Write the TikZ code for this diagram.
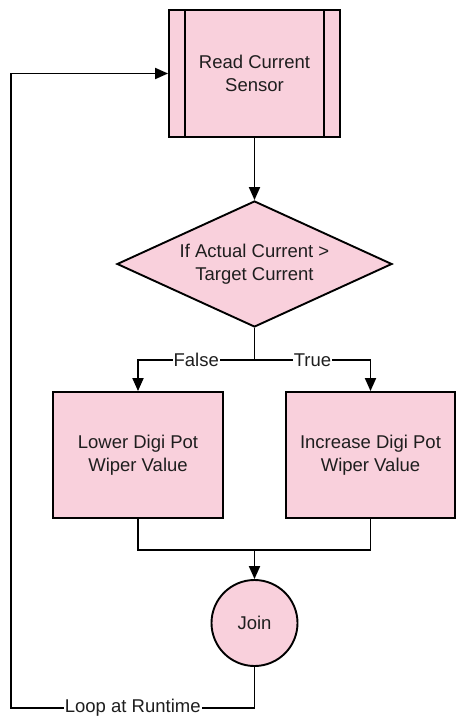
\documentclass[tikz,border=0pt]{standalone}
\usepackage{fontspec}
\setmainfont{Liberation Sans}
\usetikzlibrary{shapes.geometric,arrows.meta}
\definecolor{pinkfill}{RGB}{249,208,220}
\definecolor{txt}{RGB}{30,30,30}
\tikzset{
  every node/.style={font=\fontsize{18.5}{23}\selectfont, text=txt},
  box/.style={draw=black, line width=1.9pt, fill=pinkfill, align=center, inner sep=0pt},
  dia/.style={box, diamond, minimum width=275pt, minimum height=126pt, aspect=2.18},
  joinc/.style={box, circle, minimum size=86pt},
  conn/.style={draw=black, line width=1.9pt},
  arr/.style={conn, -{Triangle[length=13pt,width=11pt]}},
  lbl/.style={fill=white, inner sep=1pt}
}
\begin{document}
\begin{tikzpicture}[x=1pt,y=-1pt]
\useasboundingbox (0,0) rectangle (455,717);
\node[box, minimum width=171pt, minimum height=127pt] (read) at (254.5,73.5) {Read Current\\Sensor};
\draw[conn] ([xshift=17pt]read.north west) -- ([xshift=17pt]read.south west);
\draw[conn] ([xshift=-17pt]read.north east) -- ([xshift=-17pt]read.south east);
\node[dia] (dec) at (254.5,264) {If Actual Current >\\Target Current};
\node[box, minimum width=170pt, minimum height=126pt] (lower) at (138,455) {Lower Digi Pot\\Wiper Value};
\node[box, minimum width=169pt, minimum height=126pt] (inc) at (370.5,455) {Increase Digi Pot\\Wiper Value};
\node[joinc] (join) at (254.5,623) {Join};
\coordinate (br) at (254.5,360);
\coordinate (jn) at (254.5,550);
\coordinate (c1) at (254.5,708);
\coordinate (c2) at (11,708);
\draw[arr] (read.south) -- (dec.north);
\draw[conn] (dec.south) -- (br);
\draw[arr] (br) -| node[pos=0.25, lbl] {False} (lower.north);
\draw[arr] (br) -| node[pos=0.25, lbl] {True} (inc.north);
\draw[conn] (lower.south) |- (jn);
\draw[conn] (inc.south) |- (jn);
\draw[arr] (jn) -- (join.north);
\draw[arr] (join.south) -- (c1) -- node[midway, lbl] {Loop at Runtime} (c2) |- (read.west);
\end{tikzpicture}
\end{document}
